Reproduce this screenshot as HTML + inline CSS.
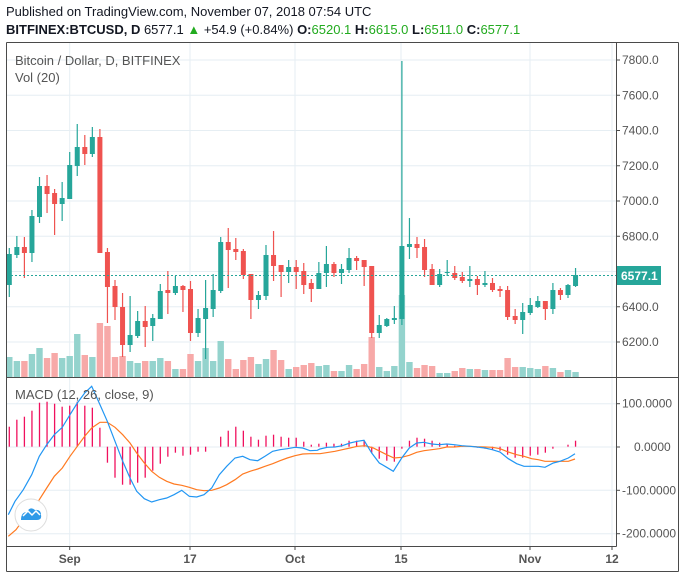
<!DOCTYPE html>
<html><head><meta charset="utf-8">
<style>
html,body{margin:0;padding:0;background:#fff;width:685px;height:578px;overflow:hidden}
body{font-family:"Liberation Sans",sans-serif;position:relative}
.h1{position:absolute;left:6px;top:4px;font-size:13px;color:#131722}
.h2{position:absolute;left:6px;top:22px;font-size:13px;color:#131722;white-space:nowrap}
.h2 b{font-weight:bold}.gr{color:#22ab1f}
</style></head><body>
<div class="h1">Published on TradingView.com, November 07, 2018 07:54 UTC</div>
<div class="h2"><b>BITFINEX:BTCUSD, D</b> 6577.1 <span class="gr">&#9650;</span> +54.9 (+0.84%) <b>O:</b><span class="gr">6520.1</span> <b>H:</b><span class="gr">6615.0</span> <b>L:</b><span class="gr">6511.0</span> <b>C:</b><span class="gr">6577.1</span></div>
<svg id="s" width="685" height="578" style="position:absolute;left:0;top:0" xmlns="http://www.w3.org/2000/svg"></svg>
<script>
var S=document.getElementById('s'),h='';
function L(x1,y1,x2,y2,c,w,extra){h+='<line x1="'+x1+'" y1="'+y1+'" x2="'+x2+'" y2="'+y2+'" stroke="'+c+'" stroke-width="'+(w||1)+'" '+(extra||'')+'/>';}
function R(x,y,w,hh,c){h+='<rect x="'+x+'" y="'+y+'" width="'+w+'" height="'+Math.max(hh,1)+'" fill="'+c+'"/>';}
function T(x,y,t,o){h+='<text x="'+x+'" y="'+y+'" '+(o||'')+'>'+t+'</text>';}
var G='#e6eef3';
// grid
for(var k=0;k<9;k++){var y=60+k*35.25;L(7,y,616,y,G);}
[403.7,447,490.3,533.7].forEach(function(y){L(7,y,616,y,G);});
var vx=[69.7,190,295,401,530,612];
vx.forEach(function(x){L(x,43,x,546,G);});
// candles
var C=[
'g',254,285,248,297,'g',247,255,236,258,'r',247,253,237,278,'g',216,253,210,262,'g',186,217,177,223,
'r',186,194,175,213,'r',193,204,189,235,'g',198,204,182,221,'g',165,199,152,199,'g',147,166,124,176,
'r',147,154,135,165,'g',137,154,127,157,'r',137,253,129,253,'r',252,287,248,323,'r',286,307,280,320,
'r',307,345,293,357,'g',335,345,296,352,'g',321,336,311,338,'r',321,327,306,347,'g',318,326,314,341,
'g',291,319,284,319,'r',290,293,271,314,'g',286,293,276,295,'r',286,290,285,312,'r',289,333,281,341,
'g',318,333,309,337,'g',308,319,280,359,'g',290,309,274,317,'g',242,291,237,293,'r',242,250,228,288,
'r',249,252,238,260,'r',251,275,249,279,'r',274,300,274,319,'g',295,300,291,309,'g',255,296,245,300,
'r',255,266,231,281,'r',265,272,265,297,'g',267,272,260,283,'r',267,272,260,289,'r',271,285,263,294,
'r',283,289,279,302,'g',273,289,262,287,'g',264,273,246,287,'r',264,273,262,277,'g',269,273,264,284,
'g',258,270,248,273,'r',258,261,256,270,'r',260,267,260,286,'r',266,333,266,338,'g',325,333,315,338,
'g',319,326,318,327,'g',318,320,306,324,'g',246,319,61,325,'g',244,247,218,259,'r',244,248,237,258,
'r',247,270,239,277,'r',269,285,264,285,'g',274,285,269,287,'g',272,273,260,276,'r',273,278,266,280,
'r',277,281,272,283,'g',279,281,266,287,'r',279,285,276,295,'g',283,285,271,287,'r',283,290,278,292,
'r',289,291,286,297,'r',290,317,286,320,'r',316,320,309,324,'g',312,320,303,334,'g',305,313,298,315,
'g',301,307,296,308,'r',301,309,301,320,'g',290,309,283,314,'r',290,295,288,300,'g',285,295,284,298,
'g',275,286,268,287];
var V=[357,361,361,354,348,358,353,358,356,334,355,357,323,326,357,356,361,363,361,361,358,361,369,369,354,361,348,361,341,359,
369,360,357,364,359,350,360,369,367,365,363,366,365,371,371,365,369,364,337,367,371,366,295,362,368,365,366,373,373,371,
368,369,369,370,370,370,358,367,367,368,369,366,368,372,370,372];
var HI=[20,27,30,36,44,45,43,40,41,45,41,39,19,-16,-31,-38,-38,-36,-31,-24,-17,-10,-6,-9,-8,-5,-5,0,10,16,20,16,10,7,11,12,10,9,9,5,2,3,4,3,3,6,6,6,-6,-12,-14,-15,-2,6,9,8,6,4,3,1,1,0,-1,-2,-3,-4,-8,-11,-11,-9,-8,-6,-2,0,2,6];
function X(i){return 9.3+7.55*i;}
// volumes
for(var i=0;i<76;i++){var c=C[i*5]=='g'?'#94d3cd':'#f7a9a8';R(X(i)-3.2,V[i],6.4,377-V[i],c);}
for(var i=0;i<76;i++){var c=C[i*5]=='g'?'#26a69a':'#ef5350',x=X(i);
L(x,C[i*5+3],x,C[i*5+4],c,1.2);R(x-2.5,C[i*5+1],5,C[i*5+2]-C[i*5+1],c);}
// last price dashed
L(7,275.5,616,275.5,'#26a69a',1,'stroke-dasharray="2,2"');
// histogram
for(var i=0;i<76;i++){var v=HI[i];if(v==0)continue;L(X(i),446.7,X(i),446.7-v,'#f0105e',1.3);}
// macd lines (zoom coords)
var B=[25,410,45,370,70,335,95,290,118,235,140,200,163,170,187,148,210,110,232,75,254,45,275,25,300,80,322,130,345,190,368,250,390,300,410,340,433,362,455,372,478,365,500,360,522,350,545,337,568,355,590,357,612,350,635,330,658,290,680,265,705,240,728,235,750,245,773,248,795,235,818,220,840,215,862,212,885,208,908,210,930,218,952,217,
960,213,982,208,1005,207,1027,203,1050,195,1072,190,1092,187,1115,225,1138,255,1160,268,1180,280,1205,240,1228,210,1250,195,1272,193,1295,198,1318,200,1340,198,1363,200,1385,203,1410,205,1430,207,1455,210,1477,215,1500,222,1525,242,1550,257,1572,265,1595,265,1615,265,1635,268,1660,255,1680,250,1705,240,1725,227];
var O=[25,475,48,455,70,425,95,395,118,365,140,330,163,295,187,270,210,235,232,205,254,175,275,150,300,133,322,133,345,148,368,170,390,195,410,225,433,255,455,280,478,298,500,310,522,318,545,322,568,328,590,335,612,338,635,337,658,330,680,320,705,305,728,288,750,280,773,273,795,265,818,257,840,248,862,240,885,233,908,228,930,227,
960,227,1005,220,1027,215,1050,210,1072,205,1095,203,1120,210,1140,220,1160,230,1182,240,1205,238,1228,232,1250,223,1272,218,1295,215,1318,212,1340,207,1363,207,1385,205,1410,205,1430,206,1455,207,1477,208,1500,212,1525,222,1550,230,1572,235,1595,242,1615,245,1635,250,1660,250,1680,250,1705,250,1725,243];
function P(a,c){var p=[];for(var j=0;j<a.length;j+=2)p.push((a[j]/3).toFixed(1)+','+(378+a[j+1]/3).toFixed(1));h+='<polyline points="'+p.join(' ')+'" fill="none" stroke="'+c+'" stroke-width="1.2"/>';}
P(O,'#ff7a21');P(B,'#2196f3');
// frame & axes
var D='#4a4a4a';
L(6.5,42.5,678.5,42.5,D);L(6.5,42.5,6.5,571.5,D);L(678.5,42.5,678.5,571.5,D);L(6.5,571.5,678.5,571.5,D);
L(616.5,42.5,616.5,546.5,D);L(6.5,377.5,678.5,377.5,D);L(6.5,546.5,616.5,546.5,D);
// price labels
var pf='font-size="12" fill="#555" font-family="Liberation Sans,sans-serif"';
for(var k=0;k<9;k++){var y=60+k*35.25;L(616,y,620,y,D);if(k<8)T(622,y+4,(7800-200*k).toFixed(1),pf);}
T(622,342+4,'6200.0',pf);
R(617,266,44,19,'#26a69a');T(621,280,'6577.1','font-size="12" font-weight="bold" fill="#fff" font-family="Liberation Sans,sans-serif"');
[[403.7,' 100.0000'],[447,'0.0000'],[490.3,'-100.0000'],[533.7,'-200.0000']].forEach(function(a){L(616,a[0],620,a[0],D);T(a[1]=='0.0000'?634:622,a[0]+4,a[1].trim()=='100.0000'?'100.0000':a[1],pf);});
// time labels
[[69.7,'Sep'],[190,'17'],[295,'Oct'],[401,'15'],[530,'Nov'],[612,'12']].forEach(function(a){L(a[0],546,a[0],550,D);T(a[0],563,a[1],pf+' text-anchor="middle" font-weight="bold"');});
T(15,65,'Bitcoin / Dollar, D, BITFINEX','font-size="13" fill="#555" font-family="Liberation Sans,sans-serif"');
T(15,82,'Vol (20)','font-size="13" fill="#555" font-family="Liberation Sans,sans-serif"');
T(15,399,'MACD (12, 26, close, 9)','font-size="13" fill="#555" font-family="Liberation Sans,sans-serif"');
// logo
h+='<circle cx="31" cy="515" r="16" fill="#fff" stroke="#ddd" stroke-width="1"/>';
h+='<path d="M21 520 Q21 512 27 512 Q30 506 35 510 Q41 509 41 515 Q42 520 37 520 Z" fill="#2f9ae8"/>';
h+='<polyline points="23,516 28,511 32,515 36,511 40,515" fill="none" stroke="#fff" stroke-width="1.5"/>';
S.innerHTML=h;
</script>
</body></html>
